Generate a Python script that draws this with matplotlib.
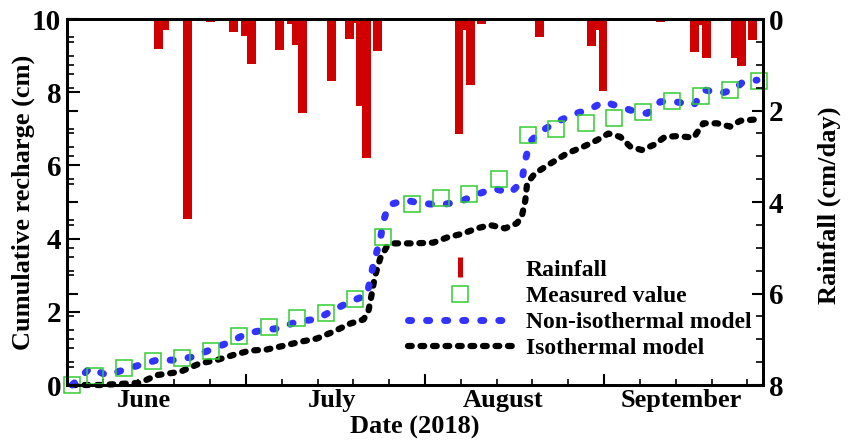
import numpy as np
import matplotlib
matplotlib.use("Agg")
import matplotlib.pyplot as plt
from matplotlib.lines import Line2D
from matplotlib.ticker import MultipleLocator

# ─── Data (x = days from start of record) ────────────────────
rain_day = [15.35, 16.4, 20.2, 24.1, 27.9, 29.95, 30.95, 35.6, 37.6, 38.5, 39.5,
            44.35, 47.35, 48.3, 49.2, 50.2, 52.1, 65.7, 66.7, 67.6, 69.5, 79.2,
            87.9, 88.9, 89.8, 98.4, 99.45, 105.1, 106.1, 107.1, 112.0, 113.0, 114.9]
rain_cm = [0.66, 0.24, 4.37, 0.07, 0.28, 0.37, 0.98, 0.68, 0.12, 0.57, 2.05,
           1.36, 0.44, 0.08, 1.90, 3.04, 0.70, 2.51, 0.24, 1.44, 0.12, 0.39,
           0.59, 0.24, 1.57, 0.04, 0.07, 0.72, 0.13, 0.85, 0.85, 1.03, 0.46]

meas_day = [0.9, 4.8, 9.6, 14.4, 19.3, 24.1, 28.9, 33.8, 38.5, 43.4, 48.2, 53.0, 57.9,
            62.7, 67.4, 72.4, 77.2, 82.0, 86.9, 91.7, 96.5, 101.3, 106.2, 111.0, 115.9]
meas_val = [0.0, 0.25, 0.46, 0.66, 0.75, 0.93, 1.34, 1.59, 1.82, 1.98, 2.34, 4.05, 4.94,
            5.12, 5.22, 5.63, 6.84, 6.99, 7.15, 7.30, 7.46, 7.76, 7.90, 8.05, 8.31]

noniso_day = [0.9, 3.9, 6.7, 9.5, 12.3, 15.1, 17.9, 21.2, 24.0, 27.4, 30.2, 32.9, 35.7,
              38.5, 41.9, 44.7, 47.5, 50.3, 50.9, 51.6, 52.5, 53.0, 53.9, 56.7, 59.2,
              62.5, 65.9, 68.4, 71.5, 74.3, 76.2, 76.8, 77.6, 79.3, 82.1, 84.9, 87.7,
              89.9, 92.7, 94.4, 97.2, 99.4, 101.9, 105.0, 106.9, 109.4, 111.7, 113.3, 115.6]
noniso_val = [0.0, 0.46, 0.27, 0.41, 0.55, 0.68, 0.68, 0.77, 0.96, 1.18, 1.41, 1.50, 1.55,
              1.73, 1.80, 2.05, 2.28, 2.46, 2.96, 3.46, 3.96, 4.46, 4.92, 5.05, 4.97,
              4.92, 5.01, 5.19, 5.37, 5.25, 5.55, 6.15, 6.65, 6.92, 7.19, 7.40, 7.54,
              7.74, 7.60, 7.51, 7.42, 7.74, 7.74, 7.65, 8.06, 7.97, 8.06, 8.29, 8.33]

iso_day = [0.9, 5.6, 12.3, 15.1, 19.0, 22.3, 25.1, 27.9, 30.7, 33.5, 36.3, 39.1, 41.9,
           44.7, 47.5, 49.7, 50.5, 51.1, 51.6, 52.5, 53.6, 54.7, 58.1, 61.4, 63.7, 66.4,
           68.7, 70.9, 73.4, 75.4, 76.2, 76.8, 77.1, 78.4, 81.0, 83.8, 86.5, 88.8, 90.7,
           92.7, 94.4, 96.3, 98.3, 100.2, 102.2, 105.0, 106.6, 108.9, 111.1, 112.8, 115.8]
iso_val = [0.0, 0.0, 0.06, 0.27, 0.36, 0.59, 0.68, 0.82, 0.94, 0.97, 1.07, 1.18, 1.27,
           1.46, 1.68, 1.79, 2.0, 2.50, 2.96, 3.46, 3.78, 3.87, 3.87, 3.89, 4.03, 4.14,
           4.28, 4.37, 4.28, 4.42, 4.60, 5.05, 5.51, 5.78, 6.05, 6.33, 6.51, 6.69, 6.87,
           6.78, 6.51, 6.42, 6.56, 6.78, 6.80, 6.76, 7.15, 7.15, 7.06, 7.22, 7.26]

month_names = ["June", "July", "August", "September"]
month_pos = [13.0, 44.5, 73.0, 103.0]

# ─── Style ───────────────────────────────────────────────────
RED = '#d00000'
BLUE = '#3333ff'
GREEN = '#33cc33'
plt.rcParams['font.family'] = ['Liberation Serif', 'DejaVu Serif']
plt.rcParams['font.weight'] = 'bold'

fig = plt.figure(figsize=(8.51, 4.42), dpi=100)
ax = fig.add_axes([66.7 / 851, 1 - 385 / 442, (763 - 66.7) / 851, (385 - 19) / 442])
ax2 = ax.twinx()

# ─── Model curves & measurements ─────────────────────────────
l_non, = ax.plot(noniso_day, noniso_val, color=BLUE, lw=5, solid_capstyle='round',
                 dash_capstyle='round', clip_on=False, zorder=3)
l_non.set_dashes((0.45, 2.15))
l_iso, = ax.plot(iso_day, iso_val, color='black', lw=4.5, dash_capstyle='round',
                 clip_on=False, zorder=2)
l_iso.set_dashes((0.6, 1.4))
ax.plot(meas_day, meas_val, ls='none', marker='s', ms=11, mfc='none', mec=GREEN,
        mew=1.1, clip_on=False, zorder=4)

# ─── Rainfall bars hanging from the top ──────────────────────
ax2.bar(rain_day, rain_cm, width=1.46, color=RED, linewidth=0)

ax.set_xlim(0, 116.6)
ax.set_ylim(0, 10)
ax2.set_ylim(8, 0)

ax.yaxis.set_major_locator(MultipleLocator(2))
ax.yaxis.set_minor_locator(MultipleLocator(0.5))
ax2.yaxis.set_major_locator(MultipleLocator(2))
ax2.yaxis.set_minor_locator(MultipleLocator(0.5))
ax.xaxis.set_major_locator(MultipleLocator(30))
ax.xaxis.set_minor_locator(MultipleLocator(6))
ax.set_xticklabels([])

ax.tick_params(axis='y', which='major', direction='in', length=9, width=1.5,
               labelsize=21, pad=4, right=False)
ax.tick_params(axis='y', which='minor', direction='in', length=5, width=1.2, right=False)
ax.tick_params(axis='x', which='major', direction='in', length=8, width=1.5, top=False)
ax.tick_params(axis='x', which='minor', direction='in', length=4, width=1.2, top=False)
ax2.yaxis.set_ticks_position('both')
ax2.tick_params(axis='y', which='major', direction='in', length=8, width=1.5,
                labelsize=21, pad=4, labelleft=False, labelright=True)
ax2.tick_params(axis='y', which='minor', direction='in', length=5, width=1.2)

for a in (ax, ax2):
    for s in a.spines.values():
        s.set_linewidth(2)

for name, pos in zip(month_names, month_pos):
    ax.text(pos, -0.012, name, transform=ax.get_xaxis_transform(), ha='center',
            va='top', fontsize=19, fontweight='bold')

ax.set_xlabel('Date (2018)', fontsize=19, fontweight='bold', va='center')
ax.xaxis.set_label_coords(0.5, -0.117)
ax.set_ylabel('Cumulative recharge (cm)', fontsize=19, fontweight='bold', va='center')
ax.yaxis.set_label_coords(-0.063, 0.5)
ax2.set_ylabel('Rainfall (cm/day)', fontsize=19, fontweight='bold', va='center')
ax2.yaxis.set_label_coords(1.095, 0.49)

# ─── Legend ──────────────────────────────────────────────────
h_rain = Line2D([], [], ls='none', marker='|', ms=15, mew=3.6, color=RED)
h_meas = Line2D([], [], ls='none', marker='s', ms=11, mfc='none', mec=GREEN, mew=1.1)
h_non = Line2D([], [], color=BLUE, lw=5, dash_capstyle='round', dashes=(0.45, 2.15))
h_iso = Line2D([], [], color='black', lw=4.5, dash_capstyle='round', dashes=(0.6, 1.4))
leg = ax2.legend([h_rain, h_meas, h_non, h_iso],
                 ['Rainfall', 'Measured value', 'Non-isothermal model', 'Isothermal model'],
                 loc='upper left', bbox_to_anchor=(408 / 851, 1 - 259 / 442),
                 bbox_transform=fig.transFigure, frameon=False, borderpad=0,
                 borderaxespad=0, handlelength=4.4, handletextpad=0.6,
                 labelspacing=0.2, numpoints=1, prop={'size': 17, 'weight': 'bold'})

fig.savefig('out.png', dpi=100)
